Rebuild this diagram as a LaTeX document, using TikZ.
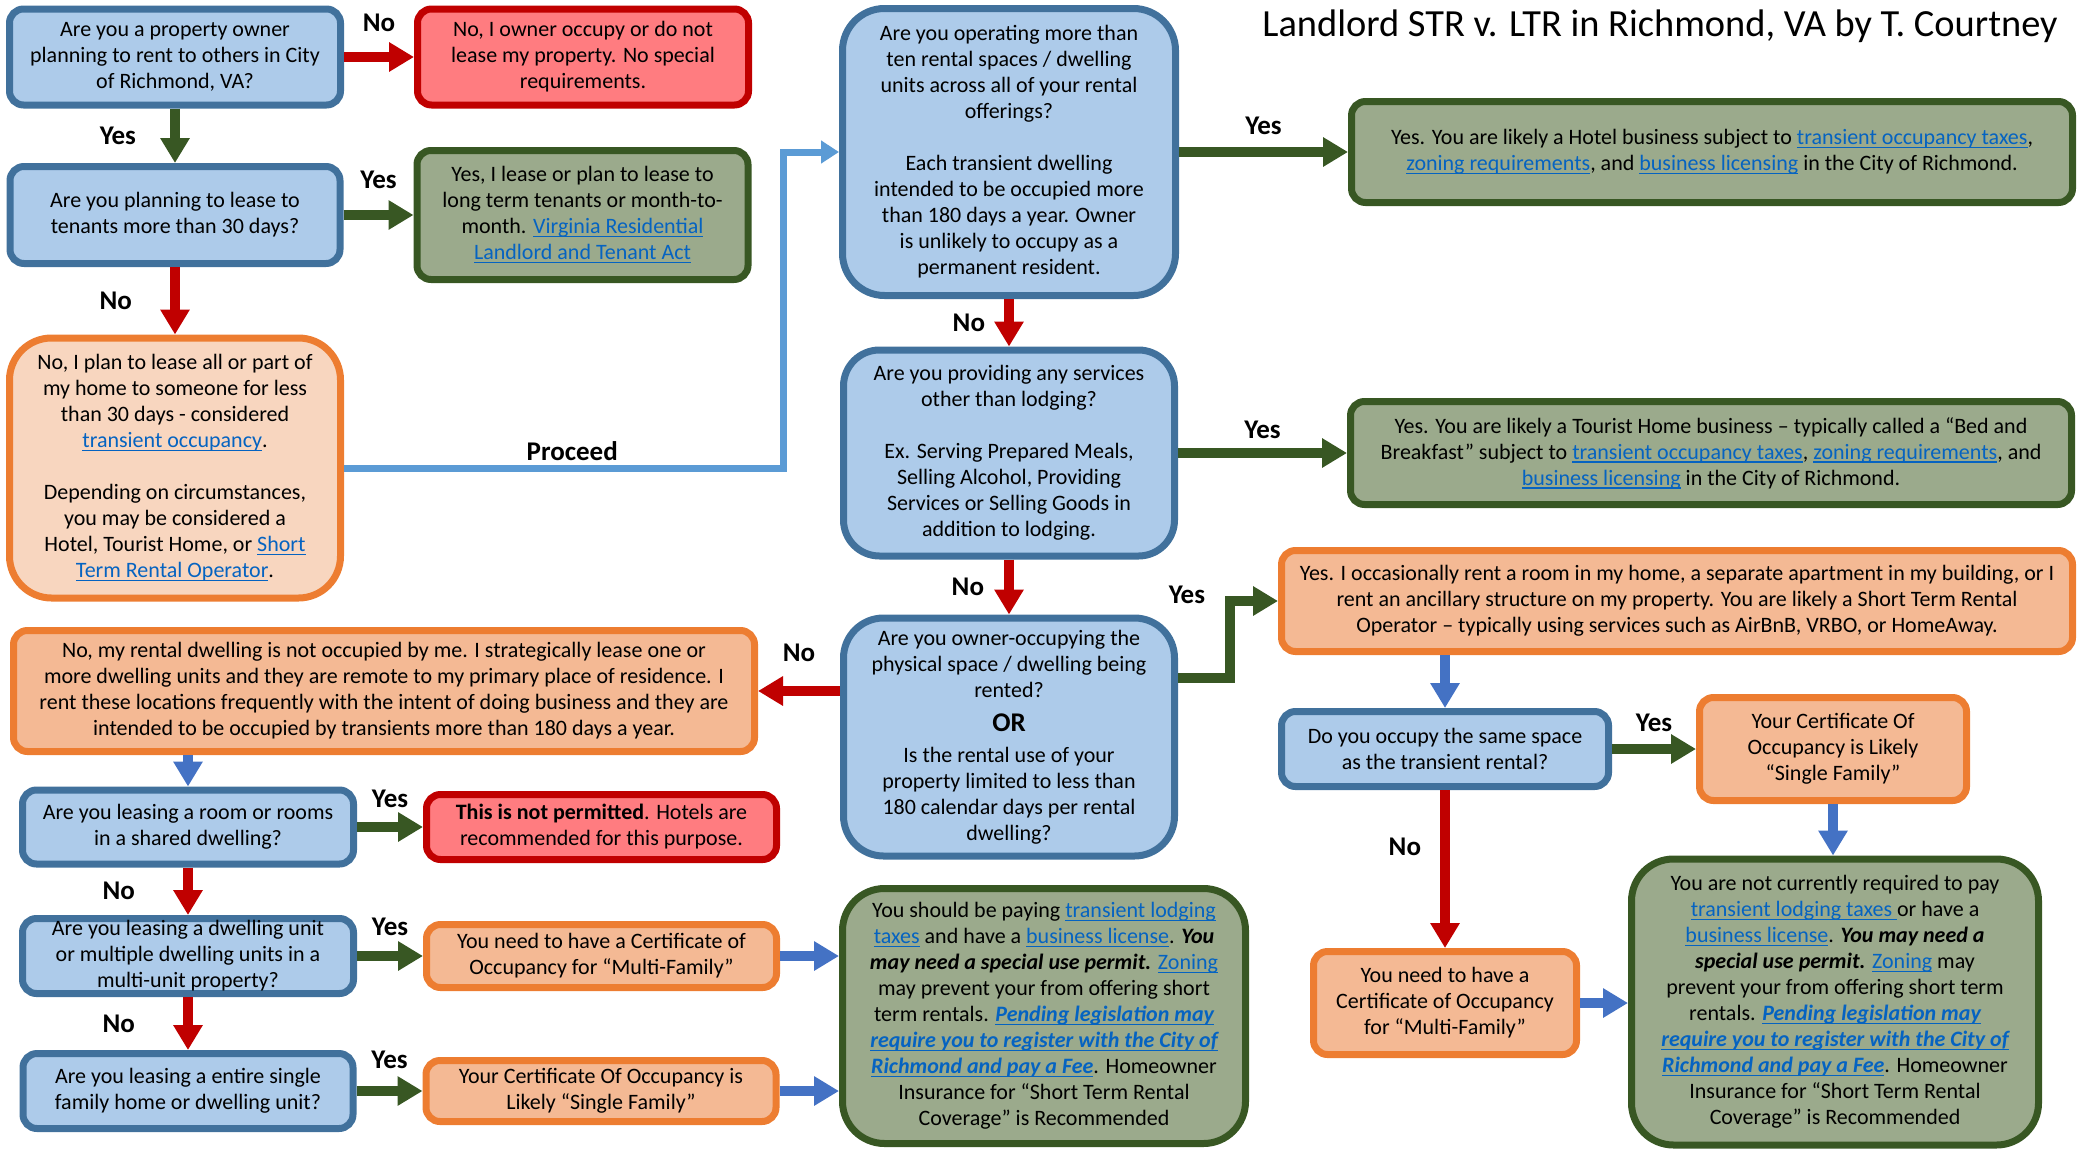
\documentclass[tikz,border=0pt]{standalone}
\usepackage{fontspec}
\setmainfont{Carlito}
\usepackage{xcolor}
\usepackage{tikz}
\usetikzlibrary{positioning, arrows.meta, calc}
\definecolor{qfill}{HTML}{ADCBEA}
\definecolor{qline}{HTML}{41719C}
\definecolor{gfill}{HTML}{9BAA8C}
\definecolor{gline}{HTML}{385723}
\definecolor{rfill}{HTML}{FF7C80}
\definecolor{rline}{HTML}{C00000}
\definecolor{ofill}{HTML}{F4B994}
\definecolor{pfill}{HTML}{F8D6BF}
\definecolor{oline}{HTML}{ED7D31}
\definecolor{weblue}{HTML}{0563C1}
\definecolor{arblue}{HTML}{4472C4}
\definecolor{prblue}{HTML}{5B9BD5}
\newcommand{\weblink}[1]{{\color{weblue}\setbox0\hbox{#1}\rlap{\rule[-1.8pt]{\wd0}{0.6pt}}\box0}}
\newcommand{\boxfont}{\fontsize{11}{13}\selectfont}
\newcommand{\lblfont}{\fontsize{13.5}{16}\selectfont\bfseries}
\tikzstyle{qu}=[%
      rectangle, draw=qline, line width=3.5pt, fill=qfill,
      rounded corners=7pt, inner sep=2pt, align=center, font=\boxfont
]
\tikzstyle{gn}=[%
      rectangle, draw=gline, line width=3.5pt, fill=gfill,
      rounded corners=7pt, inner sep=2pt, align=center, font=\boxfont
]
\tikzstyle{rd}=[%
      rectangle, draw=rline, line width=3.5pt, fill=rfill,
      rounded corners=7pt, inner sep=2pt, align=center, font=\boxfont
]
\tikzstyle{og}=[%
      rectangle, draw=oline, line width=3.5pt, fill=ofill,
      rounded corners=7pt, inner sep=2pt, align=center, font=\boxfont
]
\tikzstyle{rnd}=[rounded corners=21pt]
\tikzstyle{lb}=[font=\lblfont, inner sep=1pt]
\tikzstyle{garr}=[draw=gline, line width=5pt, -{Triangle[length=12.5pt,width=14pt]}]
\tikzstyle{rarr}=[draw=rline, line width=5pt, -{Triangle[length=12.5pt,width=14pt]}]
\tikzstyle{barr}=[draw=arblue, line width=5pt, -{Triangle[length=12.5pt,width=14pt]}]
\tikzstyle{parr}=[draw=prblue, line width=3.5pt, -{Triangle[length=9pt,width=11pt]}]

\begin{document}
\begin{tikzpicture}[x=0.5pt, y=-0.5pt]
    \useasboundingbox (0,0) rectangle (2081,1151);
    \node[anchor=base west, inner sep=0pt, font=\fontsize{19.2}{23}\selectfont] (ttl) at (1262,36) {Landlord STR v. LTR in Richmond, VA by T. Courtney};

    % left column
    \node[qu, minimum width=165.5pt, minimum height=48pt] (q1) at (175,57) {Are you a property owner\\planning to rent to others in City\\of Richmond, VA?};
    \node[rd, minimum width=165.5pt, minimum height=48pt] (r1) [right=35pt of q1] {No, I owner occupy or do not\\lease my property.  No special\\requirements.};
    \node[qu, minimum width=165pt, minimum height=48.5pt] (q2) at (175,215) {Are you planning to lease to\\tenants more than 30 days?};
    \node[gn, minimum width=165.5pt, minimum height=64.5pt] (g1) [right=35pt of q2] {Yes, I lease or plan to lease to\\long term tenants or month-to-\\month.  \weblink{Virginia Residential}\\\weblink{Landlord and Tenant Act}};
    \node[og, rnd, fill=pfill, minimum width=165.5pt, minimum height=130pt] (o1) at (175,468) {No, I plan to lease all or part of\\my home to someone for less\\than 30 days - considered\\\weblink{transient occupancy}.\\[13pt]Depending on circumstances,\\you may be considered a\\Hotel, Tourist Home, or \weblink{Short}\\\weblink{Term Rental Operator}.};

    % middle column
    \node[qu, rnd, minimum width=166.5pt, minimum height=143.5pt] (q3) at (1009,152) {Are you operating more than\\ten rental spaces / dwelling\\units across all of your rental\\offerings?\\[13pt]Each transient dwelling\\intended to be occupied more\\than 180 days a year.  Owner\\is unlikely to occupy as a\\permanent resident.};
    \node[gn, minimum width=360.5pt, minimum height=50.5pt] (g2) [right=84.5pt of q3] {Yes.  You are likely a Hotel business subject to \weblink{transient occupancy taxes},\\\weblink{zoning requirements}, and \weblink{business licensing} in the City of Richmond.};
    \node[qu, rounded corners=18pt, minimum width=165.5pt, minimum height=103pt] (q4) at (1009,453) {Are you providing any services\\other than lodging?\\[13pt]Ex.  Serving Prepared Meals,\\Selling Alcohol, Providing\\Services or Selling Goods in\\addition to lodging.};
    \node[gn, minimum width=360.5pt, minimum height=51.5pt] (g3) [right=84.5pt of q4] {Yes.  You are likely a Tourist Home business – typically called a “Bed and\\Breakfast” subject to \weblink{transient occupancy taxes}, \weblink{zoning requirements}, and\\\weblink{business licensing} in the City of Richmond.};
    \node[qu, rounded corners=20pt, minimum width=165.5pt, minimum height=119pt] (q5) at (1009,737) {Are you owner-occupying the\\physical space / dwelling being\\rented?\\[4pt]{\lblfont OR}\\[2.5pt]Is the rental use of your\\property limited to less than\\180 calendar days per rental\\dwelling?};
    \node[og, minimum width=395.5pt, minimum height=50.5pt] (o2) at (1677,601) {Yes.  I occasionally rent a room in my home, a separate apartment in my building, or I\\rent an ancillary structure on my property.  You are likely a Short Term Rental\\Operator – typically using services such as AirBnB, VRBO, or HomeAway.};

    % lower left
    \node[og, minimum width=370.5pt, minimum height=60.5pt] (d1) at (384,691) {No, my rental dwelling is not occupied by me.  I strategically lease one or\\more dwelling units and they are remote to my primary place of residence.  I\\rent these locations frequently with the intent of doing business and they are\\intended to be occupied by transients more than 180 days a year.};
    \node[qu, minimum width=165.5pt, minimum height=37pt] (q6) at (188,827) {Are you leasing a room or rooms\\in a shared dwelling?};
    \node[rd, minimum width=175pt, minimum height=32.5pt] (r2) [right=33pt of q6] {\textbf{This is not permitted}.  Hotels are\\recommended for this purpose.};
    \node[qu, inner ysep=0pt, minimum width=165.5pt, minimum height=37.5pt] (q7) at (188,956) {Are you leasing a dwelling unit\\or multiple dwelling units in a\\multi-unit property?};
    \node[og, minimum width=175pt, minimum height=31.5pt] (o3) [right=33pt of q7] {You need to have a Certificate of\\Occupancy for “Multi-Family”};
    \node[qu, minimum width=165pt, minimum height=37.5pt] (q8) at (188,1091) {Are you leasing a entire single\\family home or dwelling unit?};
    \node[og, minimum width=175pt, minimum height=30.5pt] (o4) [right=33pt of q8] {Your Certificate Of Occupancy is\\Likely “Single Family”};
    \node[gn, rnd, minimum width=201.5pt, minimum height=127.5pt] (g4) at (1044,1016) {You should be paying \weblink{transient lodging}\\\weblink{taxes} and have a \weblink{business license}.  \textbf{\textit{You}}\\\textbf{\textit{may need a special use permit.}} \weblink{Zoning}\\may prevent your from offering short\\term rentals. {\bfseries\itshape\weblink{Pending legislation may}}\\{\bfseries\itshape\weblink{require you to register with the City of}}\\{\bfseries\itshape\weblink{Richmond and pay a Fee}}. Homeowner\\Insurance for “Short Term Rental\\Coverage” is Recommended};

    % lower right
    \node[qu, minimum width=163.5pt, minimum height=37.5pt] (q9) at (1445,749) {Do you occupy the same space\\as the transient rental?};
    \node[og, minimum width=133.5pt, minimum height=51.5pt] (o5) [right=42pt of q9] {Your Certificate Of\\Occupancy is Likely\\“Single Family”};
    \node[og, minimum width=131.5pt, minimum height=51.5pt] (o6) [below=79pt of q9] {You need to have a\\Certificate of Occupancy\\for “Multi-Family”};
    \node[gn, rnd, minimum width=203.5pt, minimum height=143pt] (g5) at (1835,1002) {You are not currently required to pay\\\weblink{transient lodging taxes }or have a\\\weblink{business license}.  \textbf{\textit{You may need a}}\\\textbf{\textit{special use permit.}} \weblink{Zoning} may\\prevent your from offering short term\\rentals.  {\bfseries\itshape\weblink{Pending legislation may}}\\{\bfseries\itshape\weblink{require you to register with the City of}}\\{\bfseries\itshape\weblink{Richmond and pay a Fee}}. Homeowner\\Insurance for “Short Term Rental\\Coverage” is Recommended};

    % connectors
    \draw[rarr] (q1) -- node[lb, above=9pt] {No} (r1);
    \draw[garr] (q1) -- node[lb, left=16pt] {Yes} (q2);
    \draw[garr] (q2) -- node[lb, above=9.5pt] {Yes} (g1);
    \draw[rarr] (q2) -- node[lb, left=18pt] {No} (o1);
    \draw[parr] (o1.east) -- node[lb, above=1pt, pos=0.52] {Proceed} ++(439,0) |- (q3.west);
    \draw[garr] (q3) -- node[lb, above=5pt] {Yes} (g2);
    \draw[rarr] (q3) -- node[lb, left=8.5pt] {No} (q4);
    \draw[garr] (q4) -- node[lb, above=3.5pt] {Yes} (g3);
    \draw[rarr] (q4) -- node[lb, left=9pt] {No} (q5);
    \draw[garr] ([yshift=29.5pt]q5.east) -- ++(52,0) |- node[lb, pos=0.5, left=9pt, yshift=3pt] {Yes} (o2.west);
    \draw[rarr] (q5.west |- d1.east) -- node[lb, above=11pt] {No} (d1.east);
    \draw[barr] (q6.north |- d1.south) -- (q6.north);
    \draw[garr] (q6) -- node[lb, above=6pt] {Yes} (r2);
    \draw[rarr] (q6) -- node[lb, left=23pt] {No} (q7);
    \draw[garr] (q7) -- node[lb, above=6.5pt] {Yes} (o3);
    \draw[rarr] (q7) -- node[lb, left=23pt] {No} (q8);
    \draw[garr] (q8) -- node[lb, above=7.5pt] {Yes} (o4);
    \draw[barr] (o3.east) -- (o3.east -| g4.west);
    \draw[barr] (o4.east) -- (o4.east -| g4.west);
    \draw[barr] (q9.north |- o2.south) -- (q9.north);
    \draw[garr] (q9) -- node[lb, above=5pt] {Yes} (o5);
    \draw[rarr] (q9) -- node[lb, left=8.5pt, pos=0.36] {No} (o6);
    \draw[barr] (o6.east) -- (o6.east -| g5.west);
    \draw[barr] (o5.south) -- (o5.south |- g5.north);
\end{tikzpicture}
\end{document}
